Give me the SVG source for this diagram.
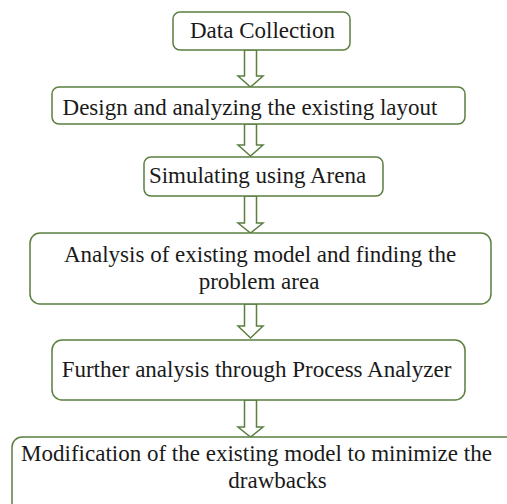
<svg xmlns="http://www.w3.org/2000/svg" width="507" height="504" viewBox="0 0 507 504">
<style>
.box{fill:#fff;stroke:#5b7f3f;stroke-width:1.5}
.arr{fill:#fff;stroke:#5b7f3f;stroke-width:1.5;stroke-linejoin:miter}
.t{font-family:'Liberation Serif','Times New Roman',serif;font-size:23px;fill:#1a1a1a;text-anchor:middle}
</style>
<rect width="507" height="504" fill="#fff"/>
<g id="connectors">
<polygon class="arr" points="244.5,50 256.5,50 256.5,76 263,76 250.5,87 238,76 244.5,76"/>
<polygon class="arr" points="244.5,124 256.5,124 256.5,145 263,145 250.5,156 238,145 244.5,145"/>
<polygon class="arr" points="244.5,196 256.5,196 256.5,223 263,223 250.5,233 238,223 244.5,223"/>
<polygon class="arr" points="244.5,304 256.5,304 256.5,326 263,326 250.5,338 238,326 244.5,326"/>
<polygon class="arr" points="244.5,400 256.5,400 256.5,427 263,427 250.5,437 238,427 244.5,427"/>
</g>
<g id="n1"><rect class="box" x="173" y="12" width="177" height="38" rx="7"/><text class="t" x="262.5" y="38">Data Collection</text></g>
<g id="n2"><rect class="box" x="52" y="87" width="413" height="37" rx="7"/><text class="t" x="250" y="115">Design and analyzing the existing layout</text></g>
<g id="n3"><rect class="box" x="144" y="157" width="239" height="39" rx="7"/><text class="t" x="257.5" y="183">Simulating using Arena</text></g>
<g id="n4"><rect class="box" x="30" y="233" width="461" height="71" rx="10"/><text class="t" x="260" y="262">Analysis of existing model and finding the</text><text class="t" x="259" y="289">problem area</text></g>
<g id="n5"><rect class="box" x="52" y="340" width="413" height="60" rx="10"/><text class="t" x="256.5" y="377">Further analysis through Process Analyzer</text></g>
<g id="n6"><rect class="box" x="12" y="437" width="510" height="80" rx="10"/><text class="t" x="256.5" y="461">Modification of the existing model to minimize the</text><text class="t" x="277.5" y="488">drawbacks</text></g>
</svg>
